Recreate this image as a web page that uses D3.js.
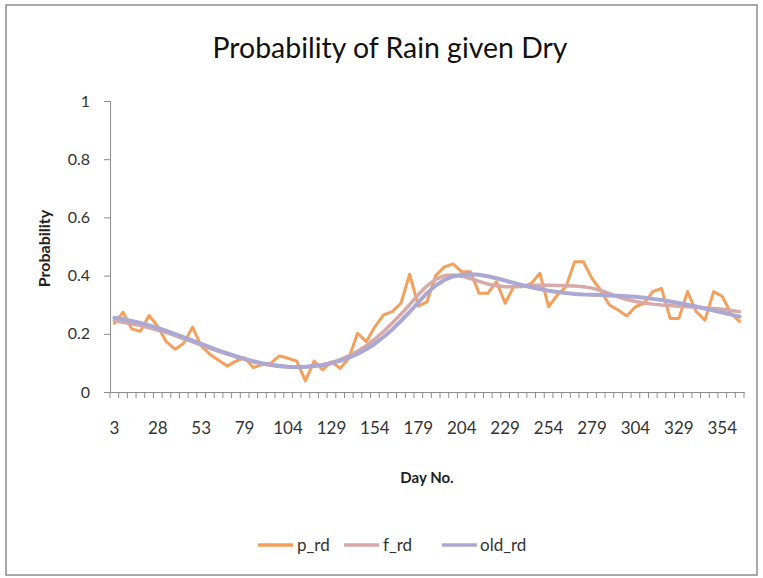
<!DOCTYPE html>
<html>
<head>
<meta charset="utf-8">
<script src="https://cdn.jsdelivr.net/npm/d3@7"></script>
<style>
  html, body { margin: 0; padding: 0; background: #ffffff; }
  svg { display: block; }
  text { font-family: Lato, "Open Sans", "Liberation Sans", sans-serif; fill: #222; }
</style>
</head>
<body>
<svg id="chart" width="763" height="578"></svg>
<script>
// ---- data ----
const days = [3,8,13,18,23,28,33,38,43,48,53,58,63,68,73,
  79,84,89,94,99,104,109,114,119,124,129,134,139,144,149,154,159,164,169,174,
  179,184,189,194,199,204,209,214,219,224,229,234,239,244,249,254,259,264,269,274,
  279,284,289,294,299,304,309,314,319,324,329,334,339,344,349,354,359,364];

const p_rd = [0.236,0.274,0.217,0.209,0.263,0.225,0.172,0.147,0.168,0.223,
  0.158,0.130,0.109,0.089,0.106,0.118,0.084,0.094,0.098,0.124,
  0.116,0.106,0.038,0.106,0.076,0.104,0.081,0.116,0.202,0.173,
  0.224,0.265,0.276,0.305,0.405,0.295,0.310,0.400,0.430,0.440,
  0.413,0.413,0.339,0.339,0.379,0.305,0.362,0.362,0.373,0.408,
  0.293,0.333,0.362,0.448,0.448,0.390,0.350,0.299,0.282,0.261,
  0.293,0.305,0.345,0.356,0.253,0.253,0.345,0.276,0.247,0.345,
  0.328,0.270,0.242];

const f_rd = [0.245,0.240,0.234,0.228,0.221,0.213,0.204,0.194,0.183,0.172,
  0.161,0.150,0.140,0.130,0.121,0.112,0.104,0.097,0.092,0.088,
  0.086,0.085,0.086,0.089,0.094,0.101,0.111,0.124,0.140,0.159,
  0.182,0.208,0.237,0.268,0.300,0.335,0.365,0.387,0.400,0.402,
  0.398,0.390,0.380,0.371,0.365,0.362,0.362,0.364,0.366,0.367,
  0.367,0.366,0.365,0.364,0.362,0.357,0.349,0.338,0.327,0.318,
  0.311,0.306,0.302,0.299,0.297,0.295,0.293,0.291,0.289,0.287,
  0.284,0.280,0.276];

const old_rd = [0.255,0.250,0.244,0.237,0.229,0.220,0.210,0.199,0.188,0.177,
  0.165,0.154,0.143,0.133,0.123,0.114,0.106,0.099,0.094,0.090,
  0.087,0.086,0.087,0.089,0.093,0.099,0.107,0.118,0.131,0.147,
  0.166,0.189,0.215,0.244,0.275,0.308,0.340,0.366,0.385,0.397,
  0.403,0.405,0.403,0.398,0.391,0.383,0.375,0.367,0.360,0.354,
  0.348,0.344,0.340,0.337,0.335,0.334,0.333,0.332,0.331,0.329,
  0.327,0.324,0.320,0.316,0.311,0.306,0.300,0.294,0.287,0.280,
  0.273,0.266,0.259];

const xTickLabels = [3,28,53,79,104,129,154,179,204,229,254,279,304,329,354];
const yTickValues = [0,0.2,0.4,0.6,0.8,1];

const seriesNames = ["p_rd","f_rd","old_rd"];
const seriesColors = ["#f4a05c","#d7a9a8","#aba9d3"];
const seriesWidths = [3,3.5,4];
const seriesData = [p_rd, f_rd, old_rd];

// ---- layout ----
const svg = d3.select("#chart");
const plot = {left: 110, right: 744, top: 101, bottom: 392};

// chart border
svg.append("rect")
  .attr("x", 6).attr("y", 5).attr("width", 751).attr("height", 570)
  .attr("fill", "none").attr("stroke", "#8c8c8c").attr("stroke-width", 1.5);

const x = d3.scaleBand().domain(days).range([plot.left, plot.right]).padding(0);
const y = d3.scaleLinear().domain([0, 1]).range([plot.bottom, plot.top]);
const cx = d => x(d) + x.bandwidth() / 2;

// title
const title = svg.append("text")
  .attr("x", 390).attr("y", 58)
  .attr("text-anchor", "middle")
  .style("font-size", "28px")
  .style("fill", "#111")
  .text("Probability of Rain given Dry");
const tw = title.node().getComputedTextLength();
if (tw > 0) title.style("font-size", (28 * 355 / tw).toFixed(2) + "px");

// y axis
const yAxis = svg.append("g")
  .attr("transform", `translate(${plot.left},0)`)
  .call(d3.axisLeft(y).tickValues(yTickValues).tickSize(6).tickPadding(14)
    .tickFormat(d => d === 0 ? "0" : d === 1 ? "1" : d3.format(".1f")(d)));
yAxis.select(".domain").attr("stroke", "#8c8c8c");
yAxis.selectAll(".tick line").attr("stroke", "#8c8c8c");
yAxis.selectAll(".tick text").style("font-size", "16px").style("fill", "#333").style("font-family", "Lato, sans-serif");

// x axis
const xAxis = svg.append("g")
  .attr("transform", `translate(0,${plot.bottom})`)
  .call(d3.axisBottom(x).tickValues(xTickLabels).tickSize(0).tickPadding(30));
xAxis.select(".domain").attr("stroke", "#8c8c8c");
xAxis.selectAll(".tick text").style("font-size", "17px").style("fill", "#333").style("font-family", "Lato, sans-serif");
// category boundary tick marks
const bounds = days.map(d => x(d)).concat([plot.right]);
svg.append("g").selectAll("line").data(bounds).join("line")
  .attr("x1", d => d).attr("x2", d => d)
  .attr("y1", plot.bottom).attr("y2", plot.bottom + 6)
  .attr("stroke", "#8c8c8c").attr("stroke-width", 1);

// axis titles
svg.append("text")
  .attr("transform", `translate(50,${(plot.top + plot.bottom) / 2 + 2}) rotate(-90)`)
  .attr("text-anchor", "middle")
  .style("font-size", "16px").style("font-weight", "bold")
  .text("Probability");
svg.append("text")
  .attr("x", 427).attr("y", 483)
  .attr("text-anchor", "middle")
  .style("font-size", "15px").style("font-weight", "bold")
  .text("Day No.");

// lines
const line = d3.line().x((d, i) => cx(days[i])).y(d => y(d));
seriesData.forEach((arr, k) => {
  svg.append("path")
    .datum(arr)
    .attr("fill", "none")
    .attr("stroke", seriesColors[k])
    .attr("stroke-width", seriesWidths[k])
    .attr("stroke-linejoin", "round")
    .attr("stroke-linecap", "round")
    .attr("d", line);
});

// legend
const legendPos = [{lx: 258, tx: 297}, {lx: 344, tx: 383}, {lx: 442, tx: 480}];
const legend = svg.append("g");
seriesNames.forEach((name, k) => {
  legend.append("line")
    .attr("x1", legendPos[k].lx).attr("x2", legendPos[k].lx + 35)
    .attr("y1", 545).attr("y2", 545)
    .attr("stroke", seriesColors[k]).attr("stroke-width", 3.5);
  legend.append("text")
    .attr("x", legendPos[k].tx).attr("y", 551)
    .style("font-size", "17px").style("fill", "#333")
    .text(name);
});
</script>
</body>
</html>
